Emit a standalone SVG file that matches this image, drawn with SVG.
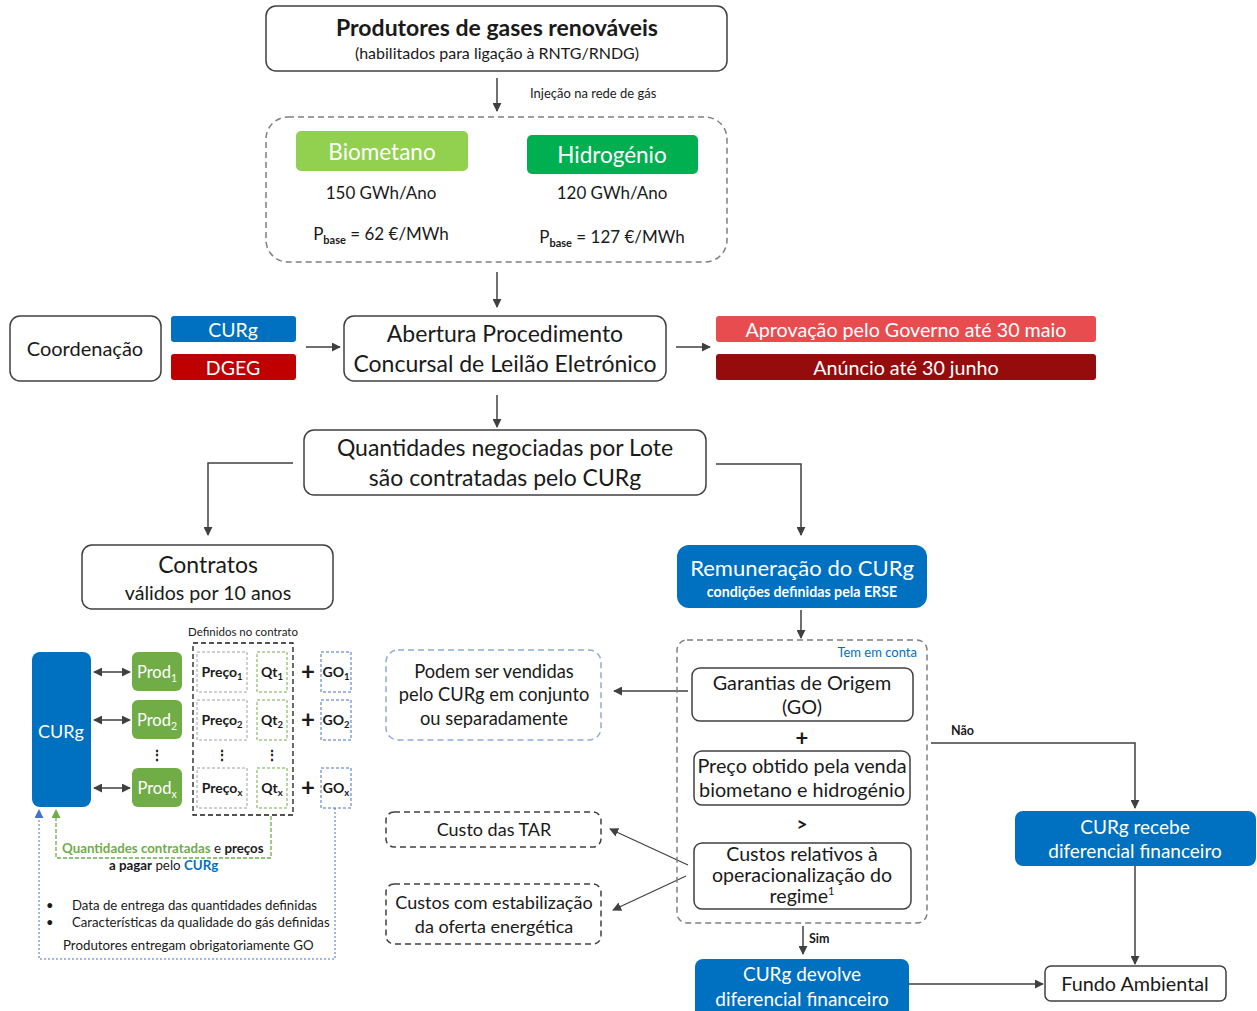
<svg xmlns="http://www.w3.org/2000/svg" width="1257" height="1011" viewBox="0 0 1257 1011">
<defs>
<style>
text{font-family:Lato,"Open Sans","Liberation Sans",sans-serif;fill:#1a1a1a}
.box{fill:#fff;stroke:#404040;stroke-width:1.5}
.dash{fill:none;stroke:#7f7f7f;stroke-width:1.5;stroke-dasharray:6 4}
.ln{fill:none;stroke:#404040;stroke-width:1.5}
.w{fill:#fff}
.c{text-anchor:middle}
.b{font-weight:bold}
</style>
<marker id="ah" viewBox="0 0 10 10" refX="9" refY="5" markerWidth="9" markerHeight="9" markerUnits="userSpaceOnUse" orient="auto"><path d="M0,0 L10,5 L0,10 z" fill="#404040"/></marker>
<marker id="ah2" viewBox="0 0 10 10" refX="9" refY="5" markerWidth="9" markerHeight="9" markerUnits="userSpaceOnUse" orient="auto-start-reverse"><path d="M0,0 L10,5 L0,10 z" fill="#404040"/></marker>
<marker id="ahb" viewBox="0 0 10 10" refX="9" refY="5" markerWidth="9" markerHeight="9" markerUnits="userSpaceOnUse" orient="auto"><path d="M0,0 L10,5 L0,10 z" fill="#4472c4"/></marker>
<marker id="ahg" viewBox="0 0 10 10" refX="9" refY="5" markerWidth="9" markerHeight="9" markerUnits="userSpaceOnUse" orient="auto"><path d="M0,0 L10,5 L0,10 z" fill="#70ad47"/></marker>
</defs>
<rect width="1257" height="1011" fill="#fff"/>

<g id="connectors">
<line class="ln" x1="497" y1="78" x2="497" y2="111" marker-end="url(#ah)"/>
<line class="ln" x1="497" y1="272" x2="497" y2="307" marker-end="url(#ah)"/>
<line class="ln" x1="306" y1="347" x2="340" y2="347" marker-end="url(#ah)"/>
<line class="ln" x1="676" y1="347" x2="710" y2="347" marker-end="url(#ah)"/>
<line class="ln" x1="497" y1="395" x2="497" y2="427" marker-end="url(#ah)"/>
<polyline class="ln" points="293,463 208,463 208,535" marker-end="url(#ah)"/>
<polyline class="ln" points="716,464 801,464 801,535" marker-end="url(#ah)"/>
<line class="ln" x1="801" y1="610" x2="801" y2="638" marker-end="url(#ah)"/>
<line class="ln" x1="94" y1="672" x2="130" y2="672" marker-start="url(#ah2)" marker-end="url(#ah2)"/>
<line class="ln" x1="94" y1="720" x2="130" y2="720" marker-start="url(#ah2)" marker-end="url(#ah2)"/>
<line class="ln" x1="94" y1="788" x2="130" y2="788" marker-start="url(#ah2)" marker-end="url(#ah2)"/>
<polyline fill="none" stroke="#70ad47" stroke-width="1.3" stroke-dasharray="4 2" points="271,816 271,858 56,858 56,810" marker-end="url(#ahg)"/>
<polyline fill="none" stroke="#4472c4" stroke-width="1" stroke-dasharray="2 2" points="335,808 335,959 39,959 39,810" marker-end="url(#ahb)"/>
<line class="ln" x1="688" y1="691" x2="614" y2="691" marker-end="url(#ah)"/>
<line x1="688" y1="865" x2="610" y2="829" stroke="#404040" stroke-width="1.2" marker-end="url(#ah)"/>
<line x1="686" y1="876" x2="613" y2="910" stroke="#404040" stroke-width="1.2" marker-end="url(#ah)"/>
<polyline class="ln" points="931,743 1135,743 1135,808" marker-end="url(#ah)"/>
<line class="ln" x1="1135" y1="866" x2="1135" y2="964" marker-end="url(#ah)"/>
<line class="ln" x1="803" y1="926" x2="803" y2="954" marker-end="url(#ah)"/>
<line class="ln" x1="909" y1="984" x2="1043" y2="984" marker-end="url(#ah)"/>
<text x="530" y="98" font-size="13">Injeção na rede de gás</text>
<text x="951" y="735" font-size="12.5" class="b">Não</text>
<text x="809" y="943" font-size="12.5" class="b">Sim</text>
</g>

<g id="produtores">
<rect class="box" x="266" y="6" width="461" height="65" rx="10"/>
<text x="497" y="36" font-size="23" class="c b">Produtores de gases renováveis</text>
<text x="497" y="59" font-size="16" class="c">(habilitados para ligação à RNTG/RNDG)</text>
</g>

<g id="gases">
<rect class="dash" x="266" y="117" width="461" height="145" rx="22"/>
<rect x="296" y="131" width="172" height="40" rx="5" fill="#92d050"/>
<text x="382" y="160" font-size="22.5" class="c w">Biometano</text>
<rect x="527" y="135" width="171" height="39" rx="5" fill="#00b050"/>
<text x="612" y="163" font-size="22.5" class="c w">Hidrogénio</text>
<text x="381" y="199" font-size="17" class="c">150 GWh/Ano</text>
<text x="612" y="199" font-size="17" class="c">120 GWh/Ano</text>
<text x="381" y="240" font-size="17" class="c">P<tspan font-size="11" dy="4" class="b">base</tspan><tspan dy="-4"> = 62 €/MWh</tspan></text>
<text x="612" y="243" font-size="17" class="c">P<tspan font-size="11" dy="4" class="b">base</tspan><tspan dy="-4"> = 127 €/MWh</tspan></text>
</g>

<g id="coordenacao">
<rect class="box" x="10" y="316" width="151" height="65" rx="10"/>
<text x="85" y="356" font-size="20" class="c">Coordenação</text>
<rect x="171" y="316" width="125" height="26" rx="3" fill="#0070c0"/>
<text x="233" y="337" font-size="19.5" class="c w">CURg</text>
<rect x="171" y="354" width="125" height="26" rx="3" fill="#c00000"/>
<text x="233" y="375" font-size="19.5" class="c w">DGEG</text>
</g>

<g id="abertura">
<rect class="box" x="344" y="316" width="322" height="65" rx="10"/>
<text x="505" y="342" font-size="23" class="c">Abertura Procedimento</text>
<text x="505" y="372" font-size="23" class="c">Concursal de Leilão Eletrónico</text>
</g>

<g id="aprovacao">
<rect x="716" y="316" width="380" height="26" rx="3" fill="#e84c4f"/>
<text x="906" y="337" font-size="19.7" class="c w">Aprovação pelo Governo até 30 maio</text>
<rect x="716" y="354" width="380" height="26" rx="3" fill="#960c0c"/>
<text x="906" y="375" font-size="19.7" class="c w">Anúncio até 30 junho</text>
</g>

<g id="quantidades">
<rect class="box" x="304" y="430" width="402" height="65" rx="10"/>
<text x="505" y="456" font-size="23" class="c">Quantidades negociadas por Lote</text>
<text x="505" y="486" font-size="23" class="c">são contratadas pelo CURg</text>
</g>

<g id="contratos">
<rect class="box" x="82" y="545" width="251" height="64" rx="10"/>
<text x="208" y="573" font-size="23" class="c">Contratos</text>
<text x="208" y="600" font-size="19.6" class="c">válidos por 10 anos</text>
</g>

<g id="remuneracao">
<rect x="677" y="545" width="250" height="63" rx="12" fill="#0070c0"/>
<text x="802" y="576" font-size="22" class="c w">Remuneração do CURg</text>
<text x="802" y="597" font-size="14.2" class="c w b">condições definidas pela ERSE</text>
</g>

<g id="contrato-detalhe">
<text x="243" y="636" font-size="11.5" class="c">Definidos no contrato</text>
<rect x="32" y="652" width="59" height="155" rx="8" fill="#0070c0"/>
<text x="61" y="738" font-size="18" class="c w">CURg</text>
<rect x="132" y="652" width="50" height="39" rx="6" fill="#70ad47"/>
<rect x="132" y="700" width="50" height="39" rx="6" fill="#70ad47"/>
<rect x="132" y="768" width="50" height="39" rx="6" fill="#70ad47"/>
<text x="157" y="678" font-size="16.5" class="c w">Prod<tspan font-size="10.5" dy="4">1</tspan></text>
<text x="157" y="726" font-size="16.5" class="c w">Prod<tspan font-size="10.5" dy="4">2</tspan></text>
<text x="157" y="794" font-size="16.5" class="c w">Prod<tspan font-size="10.5" dy="4">x</tspan></text>
<text x="157" y="760" font-size="14" class="c b">⋮</text>
<rect x="193" y="643" width="100" height="172" fill="none" stroke="#1a1a1a" stroke-width="1.3" stroke-dasharray="5 3"/>
<g fill="none" stroke="#a0a0a0" stroke-width="1" stroke-dasharray="3 2">
<rect x="197" y="652" width="50" height="40"/>
<rect x="197" y="700" width="50" height="40"/>
<rect x="197" y="768" width="50" height="40"/>
</g>
<g fill="none" stroke="#70ad47" stroke-width="1" stroke-dasharray="3 2">
<rect x="257" y="652" width="30" height="40"/>
<rect x="257" y="700" width="30" height="40"/>
<rect x="257" y="768" width="30" height="40"/>
</g>
<g fill="none" stroke="#4472c4" stroke-width="1" stroke-dasharray="3 2">
<rect x="321" y="652" width="30" height="40"/>
<rect x="321" y="700" width="30" height="40"/>
<rect x="321" y="768" width="30" height="40"/>
</g>
<g font-size="14" class="b">
<text x="222" y="677" class="c">Preço<tspan font-size="9.5" dy="3">1</tspan></text>
<text x="222" y="725" class="c">Preço<tspan font-size="9.5" dy="3">2</tspan></text>
<text x="222" y="793" class="c">Preço<tspan font-size="9.5" dy="3">x</tspan></text>
<text x="272" y="677" class="c">Qt<tspan font-size="9.5" dy="3">1</tspan></text>
<text x="272" y="725" class="c">Qt<tspan font-size="9.5" dy="3">2</tspan></text>
<text x="272" y="793" class="c">Qt<tspan font-size="9.5" dy="3">x</tspan></text>
<text x="336" y="677" class="c">GO<tspan font-size="9.5" dy="3">1</tspan></text>
<text x="336" y="725" class="c">GO<tspan font-size="9.5" dy="3">2</tspan></text>
<text x="336" y="793" class="c">GO<tspan font-size="9.5" dy="3">x</tspan></text>
</g>
<text x="222" y="760" font-size="14" class="c b">⋮</text>
<text x="272" y="760" font-size="14" class="c b">⋮</text>
<g font-size="24" class="b">
<text x="308" y="680" class="c">+</text>
<text x="308" y="728" class="c">+</text>
<text x="308" y="796" class="c">+</text>
</g>
<text x="62" y="853" font-size="13.3"><tspan class="b" fill="#70ad47">Quantidades contratadas</tspan> e <tspan class="b">preços</tspan></text>
<text x="109" y="870" font-size="13.3"><tspan class="b">a pagar</tspan> pelo <tspan class="b" fill="#0070c0">CURg</tspan></text>
<text x="46" y="910" font-size="13">•</text>
<text x="46" y="927" font-size="13">•</text>
<text x="72" y="910" font-size="13.2">Data de entrega das quantidades definidas</text>
<text x="72" y="927" font-size="13.2">Características da qualidade do gás definidas</text>
<text x="63" y="950" font-size="13.3">Produtores entregam obrigatoriamente GO</text>
</g>

<g id="vendidas">
<rect x="386" y="650" width="215" height="90" rx="12" fill="none" stroke="#8faadc" stroke-width="1.5" stroke-dasharray="6 4"/>
<text x="494" y="678" font-size="18.3" class="c">Podem ser vendidas</text>
<text x="494" y="701" font-size="18.3" class="c">pelo CURg em conjunto</text>
<text x="494" y="725" font-size="18.3" class="c">ou separadamente</text>
</g>

<g id="tar">
<rect x="386" y="812" width="215" height="35" rx="8" fill="none" stroke="#404040" stroke-width="1.5" stroke-dasharray="6 4"/>
<text x="494" y="836" font-size="18" class="c">Custo das TAR</text>
</g>

<g id="estabilizacao">
<rect x="386" y="884" width="215" height="60" rx="8" fill="none" stroke="#404040" stroke-width="1.5" stroke-dasharray="6 4"/>
<text x="494" y="909" font-size="18" class="c">Custos com estabilização</text>
<text x="494" y="933" font-size="18" class="c">da oferta energética</text>
</g>

<g id="tem-em-conta">
<rect class="dash" x="677" y="640" width="250" height="283" rx="10"/>
<text x="917" y="657" font-size="13" style="fill:#0070c0" text-anchor="end">Tem em conta</text>
<rect class="box" x="692" y="668" width="221" height="53" rx="8"/>
<text x="802" y="690" font-size="19.8" class="c">Garantias de Origem</text>
<text x="802" y="714" font-size="19.8" class="c">(GO)</text>
<text x="802" y="746" font-size="22" class="c b">+</text>
<rect class="box" x="694" y="751" width="216" height="54" rx="8"/>
<text x="802" y="773" font-size="19.8" class="c">Preço obtido pela venda</text>
<text x="802" y="797" font-size="19.8" class="c">biometano e hidrogénio</text>
<text x="802" y="831" font-size="19" class="c b">&gt;</text>
<rect class="box" x="694" y="843" width="217" height="66" rx="8"/>
<text x="802" y="861" font-size="19.6" class="c">Custos relativos à</text>
<text x="802" y="882" font-size="19.6" class="c">operacionalização do</text>
<text x="802" y="903" font-size="19.6" class="c">regime<tspan font-size="11" dy="-8">1</tspan></text>
</g>

<g id="recebe">
<rect x="1015" y="811" width="241" height="55" rx="8" fill="#0070c0"/>
<text x="1135" y="834" font-size="19" class="c w">CURg recebe</text>
<text x="1135" y="858" font-size="19" class="c w">diferencial financeiro</text>
</g>

<g id="fundo">
<rect class="box" x="1045" y="966" width="181" height="35" rx="6"/>
<text x="1135" y="991" font-size="19.8" class="c">Fundo Ambiental</text>
</g>

<g id="devolve">
<rect x="695" y="959" width="214" height="60" rx="8" fill="#0070c0"/>
<text x="802" y="981" font-size="19" class="c w">CURg devolve</text>
<text x="802" y="1006" font-size="19" class="c w">diferencial financeiro</text>
</g>
</svg>
